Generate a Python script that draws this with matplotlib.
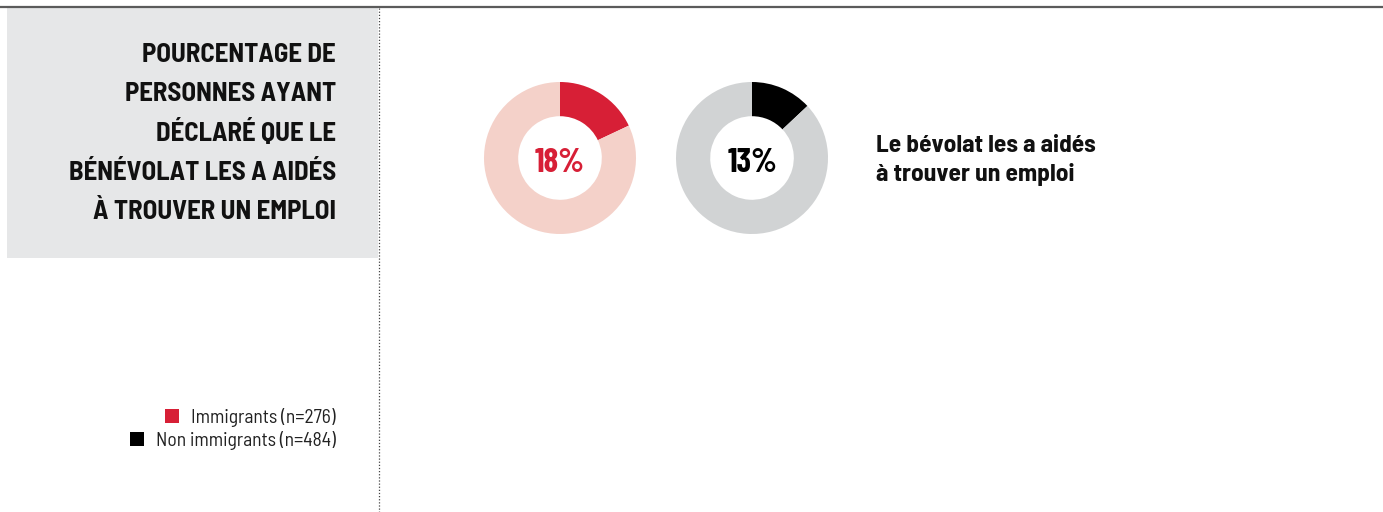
import matplotlib
matplotlib.use('Agg')
import matplotlib.pyplot as plt
from matplotlib.patches import Rectangle

# data
groups = ['Immigrants (n=276)', 'Non immigrants (n=484)']
pct = [18, 13]
main_colors = ['#d71f36', '#000000']
rest_colors = ['#f4d1c9', '#d1d3d4']
title_lines = ['POURCENTAGE DE', 'PERSONNES AYANT', 'DÉCLARÉ QUE LE',
               'BÉNÉVOLAT LES A AIDÉS', 'À TROUVER UN EMPLOI']
item_lines = ['Le bévolat les a aidés', 'à trouver un emploi']

FONT = ['Barlow Semi Condensed', 'Barlow Condensed', 'DejaVu Sans']
NARROW = ['Barlow Condensed', 'Barlow Semi Condensed', 'DejaVu Sans']
plt.rcParams['font.family'] = FONT

W, H = 1383, 512
fig = plt.figure(figsize=(W / 100, H / 100), dpi=100)

# background axes in pixel coordinates
bg = fig.add_axes([0, 0, 1, 1])
bg.set_xlim(0, W)
bg.set_ylim(H, 0)
bg.axis('off')

bg.plot([0, W], [6.5, 6.5], color='#5b5b5b', lw=1.6, solid_capstyle='butt')
bg.add_patch(Rectangle((7, 8), 371, 250, facecolor='#e6e7e8', edgecolor='none'))
bg.plot([378.5, 378.5], [8, H], color='#444444', lw=0.9, ls=(0, (1, 1.5)))

# title
for i, line in enumerate(title_lines):
    bg.text(336, 62 + i * 39.3, line, ha='right', va='baseline', fontsize=19.3,
            fontweight='bold', color='#111111')

# legend
leg_y = [423, 446]
for i, g in enumerate(groups):
    bg.text(336, leg_y[i], g, ha='right', va='baseline', fontsize=14, color='#222222')
x_sq = [165, 130]
for i, c in enumerate(main_colors):
    bg.add_patch(Rectangle((x_sq[i], leg_y[i] - 14), 14, 14, facecolor=c, edgecolor='none'))

# donuts
centers = [560, 752]
cy = 158
r = 76
for i in range(2):
    cx = centers[i]
    ax = fig.add_axes([(cx - r) / W, (H - cy - r) / H, 2 * r / W, 2 * r / H])
    ax.pie([pct[i], 100 - pct[i]], colors=[main_colors[i], rest_colors[i]],
           startangle=90, counterclock=False, radius=1,
           wedgeprops=dict(width=0.45, edgecolor='none'))
    ax.set_xlim(-1, 1)
    ax.set_ylim(-1, 1)
    bg.text(cx, 172, f'{pct[i]}%', ha='center', va='baseline', fontsize=24,
            fontweight='bold', color=main_colors[i], family=NARROW)

for i, line in enumerate(item_lines):
    bg.text(876, 152 + i * 29, line, ha='left', va='baseline', fontsize=18.3,
            fontweight='bold', color='#111111')

fig.savefig('out.png', dpi=100)
